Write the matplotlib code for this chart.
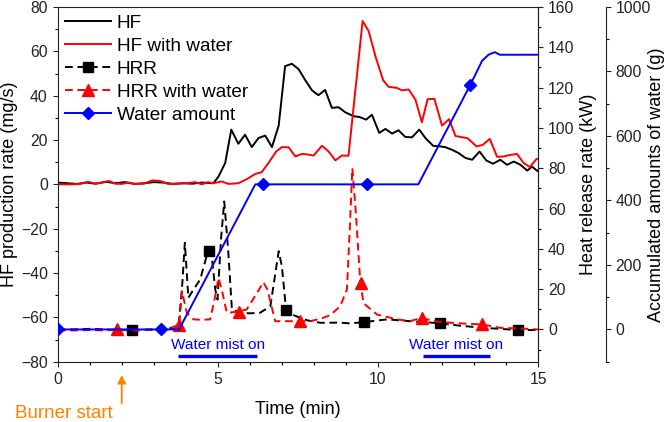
import matplotlib
matplotlib.use("Agg")
import matplotlib.pyplot as plt
from matplotlib.lines import Line2D
from matplotlib.ticker import MultipleLocator

plt.rcParams["font.family"] = ["Liberation Sans", "DejaVu Sans"]

# ── Datos ─────────────────────────────────────────────────
# HF (mg/s), eje izquierdo
hf_t = [0, 0.3, 0.6, 0.9, 1.2, 1.5, 1.8, 2.1, 2.4, 2.7, 3.0, 3.3, 3.6, 3.9,
        4.2, 4.5, 4.86, 5.02, 5.23, 5.42, 5.64, 5.85, 6.06, 6.27, 6.48, 6.69,
        6.9, 7.1, 7.31, 7.52, 7.73, 7.94, 8.14, 8.35, 8.56, 8.77, 8.98, 9.24,
        9.42, 9.63, 9.81, 10.04, 10.23, 10.44, 10.64, 10.85, 11.06, 11.29,
        11.48, 11.72, 11.95, 12.1, 12.31, 12.52, 12.73, 12.94, 13.17, 13.38,
        13.59, 13.82, 14.03, 14.24, 14.45, 14.66, 14.81, 15.0]
hf_v = [0.8, 0.5, 0.2, 0.8, 0.3, 1.2, 0.5, 1.0, 0.2, 0.5, 1.0, 0.8, 0.2, 0.5,
        0.3, 0.8, 0.5, 3.5, 9.6, 24.7, 18.3, 22.4, 16.8, 20.9, 22.0, 16.8,
        26.5, 53.3, 54.4, 52.0, 47.0, 42.4, 40.2, 42.6, 34.5, 34.8, 32.5, 30.7,
        30.4, 29.2, 31.4, 23.2, 25.0, 22.9, 24.4, 21.4, 21.2, 24.7,
        20.9, 17.4, 17.1, 16.8, 15.6, 14.1, 11.9, 11.1, 14.8, 10.8,
        9.3, 11.1, 8.8, 10.3, 8.8, 6.2, 8.0, 5.8]

hfw_t = [0, 0.4, 0.7, 0.95, 1.15, 1.4, 1.6, 1.8, 2.0, 2.2, 2.4, 2.7, 2.95,
         3.2, 3.45, 3.7, 4.0, 4.3, 4.5, 4.7, 4.86, 5.12, 5.33, 5.64, 5.9, 6.17,
         6.37, 6.58, 6.82, 7.0, 7.21, 7.42, 7.62, 7.8, 7.99, 8.25, 8.46, 8.67,
         8.87, 9.08, 9.52, 9.71, 9.92, 10.16, 10.33, 10.59, 10.75, 10.96,
         11.17, 11.37, 11.55, 11.76, 12.0, 12.22, 12.42, 12.8, 13.08, 13.27,
         13.49, 13.72, 13.93, 14.13, 14.34, 14.55, 14.74, 14.95, 15.0]
hfw_v = [0, 0, 0.2, 1.2, 0.3, 0.8, 1.5, 0.3, 0.2, 0.8, 0.2, 0.3, 1.8,
         1.5, 0.2, 0.3, 0.5, 1.0, 0, 1.0, 0.5, 1.3, 0.2, 0.5, 2.3, 4.7,
         5.5, 9.6, 14.8, 16.8, 16.7, 12.6, 13.7, 13.5, 13.0, 17.4, 14.8, 10.8,
         13.0, 12.9, 73.7, 69.1, 57.8, 47.0, 44.0, 43.5, 42.4, 42.8,
         38.2, 28.0, 38.4, 38.6, 26.5, 29.4, 21.8, 20.8, 17.1, 17.8,
         20.5, 12.4, 12.6, 13.3, 13.7, 9.6, 7.8, 11.4, 11.6]

# HRR (kW), primer eje derecho
hrr_t = [0, 0.5, 1.0, 1.5, 2.0, 2.33, 2.8, 3.3, 3.6, 3.77, 3.88, 3.97, 4.08,
         4.24, 4.45, 4.66, 4.74, 4.81, 4.92, 4.99, 5.1, 5.2, 5.32, 5.44, 5.7,
         6.0, 6.32, 6.64, 6.9, 7.0, 7.07, 7.13, 7.3, 7.57, 7.8, 8.2, 8.8,
         9.13, 9.55, 10.0, 10.3, 11.0, 11.5, 11.95, 12.6, 13.3, 13.8, 14.38,
         15.0]
hrr_v = [0, 0, 0.3, 0, -0.3, -0.5, 0, 0, 0.3, 1.0, 20.0, 43.0, 15.7,
         19.8, 24.8, 37.0, 39.0, 36.3, 19.8, 14.8, 45.0, 63.5, 40.0, 9.9, 8.3,
         8.0, 8.3, 11.5, 38.8, 31.3, 19.8, 9.6, 7.5, 5.8, 4.5, 3.3, 3.4,
         3.0, 3.6, 4.5, 5.0, 4.1, 3.6, 3.0, 1.8, 0.8, 0.3, -0.3,
         -0.3]
hrr_mk_t = [2.33, 4.74, 7.13, 9.55, 11.95, 14.38]
hrr_mk_v = [-0.5, 39.0, 9.6, 3.6, 3.0, -0.3]

hrrw_t = [0, 0.5, 1.0, 1.5, 1.84, 2.3, 2.8, 3.3, 3.67, 3.79, 3.88, 4.03,
          4.24, 4.5, 4.76, 4.9, 5.02, 5.12, 5.28, 5.45, 5.64, 5.9, 6.22, 6.42,
          6.55, 6.79, 7.16, 7.57, 7.88, 8.2, 8.5, 8.82, 9.03, 9.12, 9.2,
          9.3, 9.45, 9.55, 9.97, 10.59, 11.0, 11.37, 11.74, 12.3, 12.8,
          13.25, 13.82, 14.4, 15.0]
hrrw_v = [-0.5, -0.5, -0.3, -0.5, 0, -0.5, -0.3, -0.3, 1.6, 2.0, 19.0, 8.3,
          5.0, 4.8, 5.0, 15.0, 25.6, 20.0, 8.3, 8.5, 9.0, 9.9, 18.0, 23.4,
          19.8, 4.1, 4.1, 4.1, 4.1, 5.3, 7.0, 11.5, 19.8, 50.0, 80.0,
          60.0, 23.0, 13.0, 7.4, 5.0, 4.1, 5.8, 4.1, 3.3, 2.8,
          2.5, 0.8, 0.5, 0]
hrrw_mk_t = [1.84, 3.79, 5.65, 7.57, 9.47, 11.37, 13.25]
hrrw_mk_v = [0, 2.0, 8.7, 4.1, 23.0, 5.8, 2.5]

# Agua acumulada (g), segundo eje derecho
water_t = [0, 3.22, 3.79, 6.17, 6.4, 9.66, 11.26, 12.88, 13.25, 13.45,
           13.65, 13.8, 15.0]
water_v = [0, 0, 0, 450, 450, 450, 450, 758, 833, 852, 860, 852, 852]
water_mk_t = [0, 3.22, 6.4, 9.66, 12.88]
water_mk_v = [0, 0, 450, 450, 758]

# Periodos con nebulización (min)
mist_on = [(3.77, 6.22), (11.4, 13.5)]
burner_start = 2.0

# ── Figura ────────────────────────────────────────────────
RED = "#FF0000"
BLUE = "#0000FF"
ORANGE = "#FF8000"
LW = 1.4
DASH = (4.0, 2.4)

fig = plt.figure(figsize=(6.66, 4.22), dpi=100)
ax = fig.add_axes([0.0866, 0.1429, 0.7214, 0.8405])
ax2 = ax.twinx()
ax3 = ax.twinx()

ax.plot(hf_t, hf_v, color="black", lw=LW)
ax.plot(hfw_t, hfw_v, color=RED, lw=LW)

ax2.plot(hrr_t, hrr_v, color="black", lw=LW, dashes=DASH)
ax2.plot(hrr_mk_t, hrr_mk_v, "s", color="black", ms=6.5, ls="none")
ax2.plot(hrrw_t, hrrw_v, color=RED, lw=LW, dashes=DASH)
ax2.plot(hrrw_mk_t, hrrw_mk_v, "^", color=RED, ms=8, ls="none")

ax3.plot(water_t, water_v, color=BLUE, lw=LW)
ax3.plot(water_mk_t, water_mk_v, "D", color=BLUE, ms=6.5, ls="none")

# ── Ejes ──────────────────────────────────────────────────
ax.set_xlim(0, 15)
ax.set_ylim(-80, 80)
ax2.set_ylim(-16, 160)
ax3.set_ylim(-100, 1000)

ax.xaxis.set_major_locator(MultipleLocator(5))
ax.xaxis.set_minor_locator(MultipleLocator(1))
ax.yaxis.set_major_locator(MultipleLocator(20))
ax.yaxis.set_minor_locator(MultipleLocator(10))
ax2.yaxis.set_major_locator(MultipleLocator(20))
ax2.yaxis.set_minor_locator(MultipleLocator(10))
ax3.yaxis.set_major_locator(MultipleLocator(200))
ax3.yaxis.set_minor_locator(MultipleLocator(100))

for a in (ax, ax2, ax3):
    a.tick_params(which="major", direction="out", length=3.6, width=0.8,
                  labelsize=11.3, colors="#222222")
    a.tick_params(which="minor", direction="out", length=2.2, width=0.8)
    for s in a.spines.values():
        s.set_linewidth(0.8)
        s.set_color("#222222")
ax.tick_params(top=False, right=False, which="both")

ax3.spines["right"].set_position(("axes", 1.141))
for side in ("left", "top", "bottom"):
    ax3.spines[side].set_visible(False)
    ax2.spines[side].set_visible(False)

ax.set_xlabel("Time (min)", fontsize=13)
ax.set_ylabel("HF production rate (mg/s)", fontsize=13)
ax2.set_ylabel("Heat release rate (kW)", fontsize=13)
ax3.set_ylabel("Accumulated amounts of water (g)", fontsize=13)

ax.xaxis.set_label_coords(0.5, -0.136)
ax.yaxis.set_label_coords(-0.101, 0.5)
ax2.yaxis.set_label_coords(1.104, 0.5)
ax3.yaxis.set_label_coords(1.247, 0.5)
for lab in (ax.xaxis.label, ax.yaxis.label, ax2.yaxis.label, ax3.yaxis.label):
    lab.set_va("center")
    lab.set_ha("center")

# ── Anotaciones ───────────────────────────────────────────
for x0, x1 in mist_on:
    ax.plot([x0, x1], [-77.4, -77.4], color=BLUE, lw=2.4, solid_capstyle="butt")
    ax.text((x0 + x1) / 2, -72.6, "Water mist on", color=BLUE,
            fontsize=11.1, ha="center", va="center")

ax.annotate("", xy=(burner_start, -0.0375), xytext=(burner_start, -0.117),
            xycoords=("data", "axes fraction"),
            textcoords=("data", "axes fraction"),
            arrowprops=dict(arrowstyle="-|>", color=ORANGE, lw=1.3,
                            mutation_scale=12, shrinkA=0, shrinkB=0),
            annotation_clip=False)
ax.text(1.73, -0.145, "Burner start", color=ORANGE, fontsize=13.5,
        ha="right", va="center", transform=ax.get_xaxis_transform())

# ── Leyenda ───────────────────────────────────────────────
handles = [
    Line2D([], [], color="black", lw=LW),
    Line2D([], [], color=RED, lw=LW),
    Line2D([], [], color="black", lw=LW, dashes=DASH, marker="s", ms=6.5),
    Line2D([], [], color=RED, lw=LW, dashes=DASH, marker="^", ms=8),
    Line2D([], [], color=BLUE, lw=LW, marker="D", ms=6.5),
]
labels = ["HF", "HF with water", "HRR", "HRR with water", "Water amount"]
ax3.legend(handles, labels, loc="upper left", frameon=False, fontsize=13.7,
           handlelength=2.4, handletextpad=0.3, labelspacing=0.3,
           borderaxespad=0.1, borderpad=0.3)

fig.savefig("out.png", dpi=100)
